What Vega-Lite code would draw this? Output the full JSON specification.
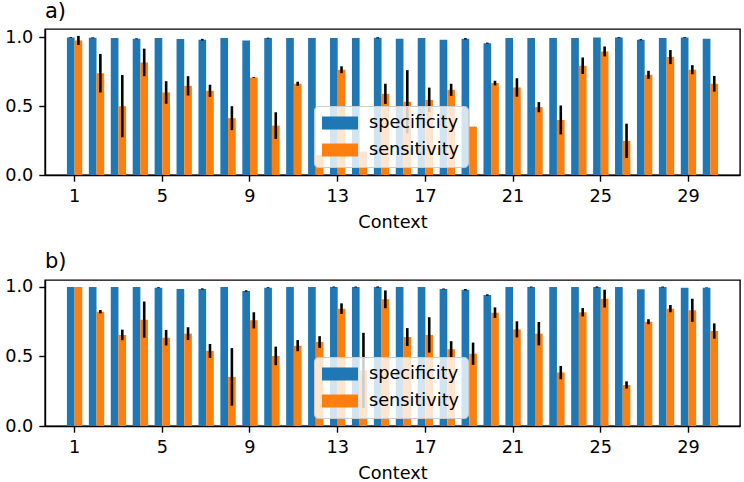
{
  "$schema": "https://vega.github.io/schema/vega-lite/v6.json",
  "padding": {"left": 3, "right": 5, "top": 0, "bottom": 3},
  "spacing": 17,
  "background": "white",
  "config": {
    "font": "DejaVu Sans",
    "view": {"stroke": "black", "strokeWidth": 1.4},
    "axis": {"grid": false, "domainColor": "black", "domainWidth": 1.4, "tickColor": "black", "tickWidth": 1.4, "tickSize": 6.2, "labelFont": "DejaVu Sans", "labelFontSize": 17.7, "labelColor": "black", "titleFont": "DejaVu Sans", "titleFontSize": 17.7, "titleFontWeight": "normal", "titleColor": "black", "labelPadding": 6},
    "title": {"font": "DejaVu Sans", "fontSize": 21, "fontWeight": "normal", "color": "black", "anchor": "start", "frame": "group", "offset": 6},
    "legend": {"orient": "none", "legendX": 269, "legendY": 77, "title": null, "labelFont": "DejaVu Sans", "labelFontSize": 17.7, "labelColor": "black", "fillColor": "rgba(255,255,255,0.8)", "strokeColor": "#cccccc", "cornerRadius": 4, "padding": 8, "symbolType": "M-2,-0.72H2V0.72H-2Z", "symbolSize": 324, "symbolStrokeWidth": 0, "symbolOpacity": 1, "rowPadding": 9, "labelOffset": 20, "symbolOffset": 9}
  },
  "resolve": {"legend": {"color": "independent"}},
  "vconcat": [
    {
      "title": "a)",
      "width": 695,
      "height": 146,
      "data": {"values": [
        {"context": 1, "metric": "specificity", "value": 1.0, "err": 0.003},
        {"context": 2, "metric": "specificity", "value": 0.997, "err": 0.003},
        {"context": 3, "metric": "specificity", "value": 0.995, "err": 0},
        {"context": 4, "metric": "specificity", "value": 0.99, "err": 0.003},
        {"context": 5, "metric": "specificity", "value": 0.995, "err": 0},
        {"context": 6, "metric": "specificity", "value": 0.988, "err": 0},
        {"context": 7, "metric": "specificity", "value": 0.983, "err": 0.006},
        {"context": 8, "metric": "specificity", "value": 0.995, "err": 0},
        {"context": 9, "metric": "specificity", "value": 0.978, "err": 0},
        {"context": 10, "metric": "specificity", "value": 0.995, "err": 0.003},
        {"context": 11, "metric": "specificity", "value": 0.995, "err": 0},
        {"context": 12, "metric": "specificity", "value": 0.995, "err": 0},
        {"context": 13, "metric": "specificity", "value": 0.995, "err": 0},
        {"context": 14, "metric": "specificity", "value": 0.995, "err": 0},
        {"context": 15, "metric": "specificity", "value": 0.997, "err": 0.004},
        {"context": 16, "metric": "specificity", "value": 0.99, "err": 0},
        {"context": 17, "metric": "specificity", "value": 0.995, "err": 0},
        {"context": 18, "metric": "specificity", "value": 0.982, "err": 0},
        {"context": 19, "metric": "specificity", "value": 0.99, "err": 0.005},
        {"context": 20, "metric": "specificity", "value": 0.958, "err": 0.004},
        {"context": 21, "metric": "specificity", "value": 0.995, "err": 0},
        {"context": 22, "metric": "specificity", "value": 0.995, "err": 0},
        {"context": 23, "metric": "specificity", "value": 0.995, "err": 0},
        {"context": 24, "metric": "specificity", "value": 0.995, "err": 0},
        {"context": 25, "metric": "specificity", "value": 1.0, "err": 0},
        {"context": 26, "metric": "specificity", "value": 1.0, "err": 0.003},
        {"context": 27, "metric": "specificity", "value": 0.983, "err": 0.004},
        {"context": 28, "metric": "specificity", "value": 0.995, "err": 0},
        {"context": 29, "metric": "specificity", "value": 1.0, "err": 0.003},
        {"context": 30, "metric": "specificity", "value": 0.99, "err": 0},
        {"context": 1, "metric": "sensitivity", "value": 0.978, "err": 0.033},
        {"context": 2, "metric": "sensitivity", "value": 0.74, "err": 0.14},
        {"context": 3, "metric": "sensitivity", "value": 0.5, "err": 0.226},
        {"context": 4, "metric": "sensitivity", "value": 0.818, "err": 0.1},
        {"context": 5, "metric": "sensitivity", "value": 0.6, "err": 0.082},
        {"context": 6, "metric": "sensitivity", "value": 0.648, "err": 0.07},
        {"context": 7, "metric": "sensitivity", "value": 0.612, "err": 0.044},
        {"context": 8, "metric": "sensitivity", "value": 0.413, "err": 0.087},
        {"context": 9, "metric": "sensitivity", "value": 0.709, "err": 0.003},
        {"context": 10, "metric": "sensitivity", "value": 0.359, "err": 0.097},
        {"context": 11, "metric": "sensitivity", "value": 0.663, "err": 0.015},
        {"context": 12, "metric": "sensitivity", "value": 0.146, "err": 0},
        {"context": 13, "metric": "sensitivity", "value": 0.765, "err": 0.025},
        {"context": 14, "metric": "sensitivity", "value": 0.17, "err": 0},
        {"context": 15, "metric": "sensitivity", "value": 0.59, "err": 0.073},
        {"context": 16, "metric": "sensitivity", "value": 0.532, "err": 0.23},
        {"context": 17, "metric": "sensitivity", "value": 0.546, "err": 0.089},
        {"context": 18, "metric": "sensitivity", "value": 0.619, "err": 0.044},
        {"context": 19, "metric": "sensitivity", "value": 0.352, "err": 0},
        {"context": 20, "metric": "sensitivity", "value": 0.668, "err": 0.017},
        {"context": 21, "metric": "sensitivity", "value": 0.636, "err": 0.067},
        {"context": 22, "metric": "sensitivity", "value": 0.493, "err": 0.037},
        {"context": 23, "metric": "sensitivity", "value": 0.4, "err": 0.105},
        {"context": 24, "metric": "sensitivity", "value": 0.794, "err": 0.06},
        {"context": 25, "metric": "sensitivity", "value": 0.898, "err": 0.036},
        {"context": 26, "metric": "sensitivity", "value": 0.248, "err": 0.125},
        {"context": 27, "metric": "sensitivity", "value": 0.728, "err": 0.029},
        {"context": 28, "metric": "sensitivity", "value": 0.857, "err": 0.051},
        {"context": 29, "metric": "sensitivity", "value": 0.765, "err": 0.033},
        {"context": 30, "metric": "sensitivity", "value": 0.663, "err": 0.057}
      ]},
      "encoding": {
        "x": {"field": "context", "type": "ordinal", "scale": {"paddingInner": 0.3, "paddingOuter": 1.445}, "axis": {"values": [1, 5, 9, 13, 17, 21, 25, 29], "labelAngle": 0, "title": "Context", "titlePadding": 9}},
        "xOffset": {"field": "metric", "type": "nominal", "sort": ["specificity", "sensitivity"], "scale": {"paddingInner": 0, "paddingOuter": 0}}
      },
      "layer": [
        {
          "mark": {"type": "bar"},
          "encoding": {
            "y": {"field": "value", "type": "quantitative", "scale": {"domain": [0, 1.061], "nice": false}, "axis": {"values": [0, 0.5, 1.0], "format": ".1f", "title": null, "labelPadding": 6}},
            "color": {"field": "metric", "type": "nominal", "sort": ["specificity", "sensitivity"], "scale": {"domain": ["specificity", "sensitivity"], "range": ["#1f77b4", "#ff7f0e"]}}
          }
        },
        {
          "mark": {"type": "errorbar", "ticks": false, "thickness": 2.6, "color": "black"},
          "encoding": {
            "y": {"field": "value", "type": "quantitative"},
            "yError": {"field": "err"}
          }
        }
      ]
    },
    {
      "title": "b)",
      "width": 695,
      "height": 146,
      "data": {"values": [
        {"context": 1, "metric": "specificity", "value": 1.0, "err": 0},
        {"context": 2, "metric": "specificity", "value": 1.0, "err": 0},
        {"context": 3, "metric": "specificity", "value": 1.0, "err": 0},
        {"context": 4, "metric": "specificity", "value": 1.0, "err": 0},
        {"context": 5, "metric": "specificity", "value": 0.995, "err": 0.003},
        {"context": 6, "metric": "specificity", "value": 0.986, "err": 0},
        {"context": 7, "metric": "specificity", "value": 0.986, "err": 0.004},
        {"context": 8, "metric": "specificity", "value": 1.0, "err": 0},
        {"context": 9, "metric": "specificity", "value": 0.971, "err": 0.005},
        {"context": 10, "metric": "specificity", "value": 0.995, "err": 0.003},
        {"context": 11, "metric": "specificity", "value": 1.0, "err": 0},
        {"context": 12, "metric": "specificity", "value": 1.0, "err": 0},
        {"context": 13, "metric": "specificity", "value": 1.0, "err": 0.003},
        {"context": 14, "metric": "specificity", "value": 1.0, "err": 0.003},
        {"context": 15, "metric": "specificity", "value": 1.0, "err": 0.004},
        {"context": 16, "metric": "specificity", "value": 1.0, "err": 0},
        {"context": 17, "metric": "specificity", "value": 1.0, "err": 0},
        {"context": 18, "metric": "specificity", "value": 0.986, "err": 0.003},
        {"context": 19, "metric": "specificity", "value": 0.98, "err": 0.005},
        {"context": 20, "metric": "specificity", "value": 0.942, "err": 0.005},
        {"context": 21, "metric": "specificity", "value": 1.0, "err": 0},
        {"context": 22, "metric": "specificity", "value": 1.0, "err": 0.003},
        {"context": 23, "metric": "specificity", "value": 1.0, "err": 0},
        {"context": 24, "metric": "specificity", "value": 1.0, "err": 0},
        {"context": 25, "metric": "specificity", "value": 1.0, "err": 0.004},
        {"context": 26, "metric": "specificity", "value": 1.0, "err": 0},
        {"context": 27, "metric": "specificity", "value": 0.983, "err": 0},
        {"context": 28, "metric": "specificity", "value": 1.0, "err": 0.003},
        {"context": 29, "metric": "specificity", "value": 0.995, "err": 0},
        {"context": 30, "metric": "specificity", "value": 0.995, "err": 0.002},
        {"context": 1, "metric": "sensitivity", "value": 1.0, "err": 0},
        {"context": 2, "metric": "sensitivity", "value": 0.822, "err": 0.012},
        {"context": 3, "metric": "sensitivity", "value": 0.655, "err": 0.038},
        {"context": 4, "metric": "sensitivity", "value": 0.765, "err": 0.13},
        {"context": 5, "metric": "sensitivity", "value": 0.635, "err": 0.056},
        {"context": 6, "metric": "sensitivity", "value": 0.664, "err": 0.046},
        {"context": 7, "metric": "sensitivity", "value": 0.54, "err": 0.05},
        {"context": 8, "metric": "sensitivity", "value": 0.353, "err": 0.207},
        {"context": 9, "metric": "sensitivity", "value": 0.76, "err": 0.058},
        {"context": 10, "metric": "sensitivity", "value": 0.504, "err": 0.067},
        {"context": 11, "metric": "sensitivity", "value": 0.578, "err": 0.04},
        {"context": 12, "metric": "sensitivity", "value": 0.604, "err": 0.042},
        {"context": 13, "metric": "sensitivity", "value": 0.844, "err": 0.038},
        {"context": 14, "metric": "sensitivity", "value": 0.4, "err": 0.27},
        {"context": 15, "metric": "sensitivity", "value": 0.911, "err": 0.064},
        {"context": 16, "metric": "sensitivity", "value": 0.64, "err": 0.064},
        {"context": 17, "metric": "sensitivity", "value": 0.655, "err": 0.127},
        {"context": 18, "metric": "sensitivity", "value": 0.552, "err": 0.058},
        {"context": 19, "metric": "sensitivity", "value": 0.52, "err": 0.08},
        {"context": 20, "metric": "sensitivity", "value": 0.815, "err": 0.038},
        {"context": 21, "metric": "sensitivity", "value": 0.695, "err": 0.058},
        {"context": 22, "metric": "sensitivity", "value": 0.664, "err": 0.084},
        {"context": 23, "metric": "sensitivity", "value": 0.384, "err": 0.048},
        {"context": 24, "metric": "sensitivity", "value": 0.818, "err": 0.03},
        {"context": 25, "metric": "sensitivity", "value": 0.916, "err": 0.064},
        {"context": 26, "metric": "sensitivity", "value": 0.295, "err": 0.026},
        {"context": 27, "metric": "sensitivity", "value": 0.75, "err": 0.018},
        {"context": 28, "metric": "sensitivity", "value": 0.844, "err": 0.026},
        {"context": 29, "metric": "sensitivity", "value": 0.832, "err": 0.083},
        {"context": 30, "metric": "sensitivity", "value": 0.683, "err": 0.055}
      ]},
      "encoding": {
        "x": {"field": "context", "type": "ordinal", "scale": {"paddingInner": 0.3, "paddingOuter": 1.445}, "axis": {"values": [1, 5, 9, 13, 17, 21, 25, 29], "labelAngle": 0, "title": "Context", "titlePadding": 9}},
        "xOffset": {"field": "metric", "type": "nominal", "sort": ["specificity", "sensitivity"], "scale": {"paddingInner": 0, "paddingOuter": 0}}
      },
      "layer": [
        {
          "mark": {"type": "bar"},
          "encoding": {
            "y": {"field": "value", "type": "quantitative", "scale": {"domain": [0, 1.05], "nice": false}, "axis": {"values": [0, 0.5, 1.0], "format": ".1f", "title": null, "labelPadding": 6}},
            "color": {"field": "metric", "type": "nominal", "sort": ["specificity", "sensitivity"], "scale": {"domain": ["specificity", "sensitivity"], "range": ["#1f77b4", "#ff7f0e"]}}
          }
        },
        {
          "mark": {"type": "errorbar", "ticks": false, "thickness": 2.6, "color": "black"},
          "encoding": {
            "y": {"field": "value", "type": "quantitative"},
            "yError": {"field": "err"}
          }
        }
      ]
    }
  ]
}
